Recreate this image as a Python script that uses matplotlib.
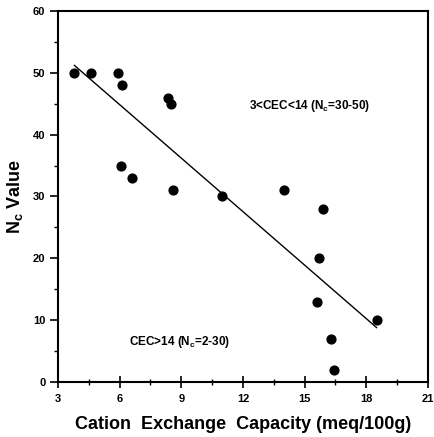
import matplotlib
matplotlib.use("Agg")
import matplotlib.pyplot as plt
from matplotlib.ticker import MultipleLocator

cec = [3.8, 4.6, 5.9, 6.1, 8.35, 8.5, 6.05, 6.6, 8.6, 11.0, 14.0, 15.9, 15.7, 15.6, 18.5, 16.3, 16.45]
nc = [50, 50, 50, 48, 46, 45, 35, 33, 31, 30, 31, 28, 20, 13, 10, 7, 2]
fit_x = [3.8, 18.5]
fit_y = [51.2, 8.8]

plt.rcParams['font.family'] = ['Liberation Sans', 'DejaVu Sans']

fig = plt.figure(figsize=(4.35, 4.37), dpi=100)
ax = fig.add_axes([58/435, 1-382/437, 370/435, 371/437])

ax.scatter(cec, nc, s=40, color='black', zorder=3)
ax.plot(fit_x, fit_y, color='black', lw=1.0)

ax.set_xlim(3, 21)
ax.set_ylim(0, 60)
ax.xaxis.set_major_locator(MultipleLocator(3))
ax.xaxis.set_minor_locator(MultipleLocator(1.5))
ax.yaxis.set_major_locator(MultipleLocator(10))
ax.yaxis.set_minor_locator(MultipleLocator(5))
ax.tick_params(axis='x', which='major', direction='inout', length=8, width=1.2, labelsize=8, pad=5)
ax.tick_params(axis='x', which='minor', direction='inout', length=4, width=1.0)
ax.tick_params(axis='y', which='major', direction='out', length=6, width=1.2, labelsize=8, pad=3)
ax.tick_params(axis='y', which='minor', direction='out', length=3, width=1.0)
for lab in ax.get_xticklabels() + ax.get_yticklabels():
    lab.set_fontweight('bold')
for sp in ax.spines.values():
    sp.set_linewidth(1.5)

ax.set_xlabel('Cation  Exchange  Capacity (meq/100g)', fontsize=13, fontweight='bold', labelpad=8)
ax.set_ylabel('N$_\\mathregular{c}$ Value', fontsize=13, fontweight='bold', labelpad=6)

ax.text(0.68, 0.745, '3<CEC<14 (N$_\\mathregular{c}$=30-50)', transform=ax.transAxes,
        ha='center', va='center', fontsize=8.5, fontweight='bold')
ax.text(0.33, 0.108, 'CEC>14 (N$_\\mathregular{c}$=2-30)', transform=ax.transAxes,
        ha='center', va='center', fontsize=8.5, fontweight='bold')

fig.savefig('out.png', dpi=100)
